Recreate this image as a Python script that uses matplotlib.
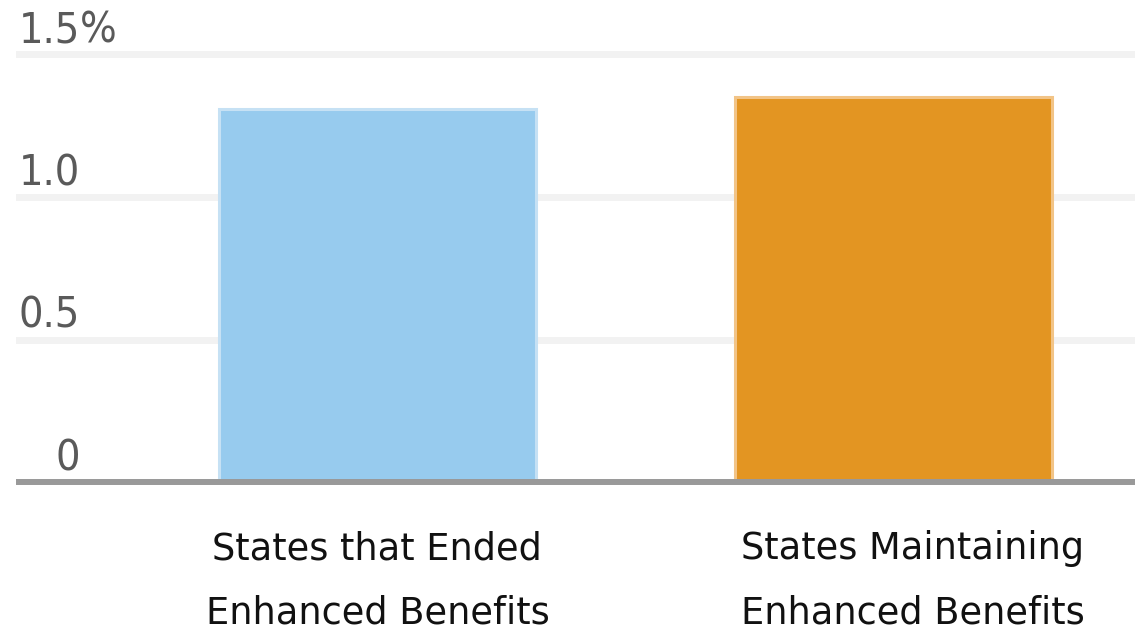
import matplotlib.pyplot as plt
from matplotlib.transforms import blended_transform_factory

# values (percent)
categories = ['States that Ended\nEnhanced Benefits', 'States Maintaining\nEnhanced Benefits']
values = [1.31, 1.35]
bar_colors = ['#97cbee', '#e39522']
edge_colors = ['#c6e1f4', '#f2c487']
yticks = [0, 0.5, 1.0, 1.5]
ytick_labels = ['0', '0.5', '1.0', '1.5']

W, H, DPI = 1135, 632, 100
fig = plt.figure(figsize=(W / DPI, H / DPI), dpi=DPI)

# axes placed in pixel terms: x from 19 to 1135, baseline at y=482, 285 px per 1.0
left_px, right_px, base_px, unit_px = 19, 1135, 482, 285
ymax = 1.56
top_px = base_px - ymax * unit_px
ax = fig.add_axes([left_px / W, 1 - base_px / H, (right_px - left_px) / W, (base_px - top_px) / H])

x = list(range(len(categories)))
ax.bar(x, values, width=0.614, color=bar_colors, edgecolor=edge_colors, linewidth=2.2, zorder=2)

ax.set_xlim(-0.694, 1.467)
ax.set_ylim(0, ymax)

# light gridlines, darker baseline
for v in yticks[1:]:
    ax.axhline(v, color='#f2f2f2', lw=5, zorder=1, clip_on=False)
ax.axhline(0, color='#999999', lw=4.3, zorder=3, clip_on=False)

for s in ax.spines.values():
    s.set_visible(False)
ax.set_xticks([])
ax.set_yticks([])

tick_kw = dict(fontsize=31, color='#5a5a5a', family='DejaVu Sans', fontstretch='condensed',
               xycoords=('axes fraction', 'data'), textcoords='offset points',
               va='baseline', annotation_clip=False)
lab_x = (80 - left_px) / (right_px - left_px)
for v, lab in zip(yticks, ytick_labels):
    ax.annotate(lab, xy=(lab_x, v), xytext=(0, 8.5), ha='right', **tick_kw)
# percent sign after the top label
ax.annotate('%', xy=(lab_x, yticks[-1]), xytext=(0, 8.5), ha='left', **tick_kw)

# category labels under the bars, two lines each
trans = blended_transform_factory(ax.transData, fig.transFigure)
shift = [0, 0.037]
for xi, cat, dx in zip(x, categories, shift):
    for line, base in zip(cat.split('\n'), [559, 623]):
        ax.text(xi + dx, 1 - base / H, line, transform=trans, ha='center', va='baseline',
                fontsize=26.5, color='#111111', family='DejaVu Sans')

fig.savefig('out.png', dpi=DPI)
